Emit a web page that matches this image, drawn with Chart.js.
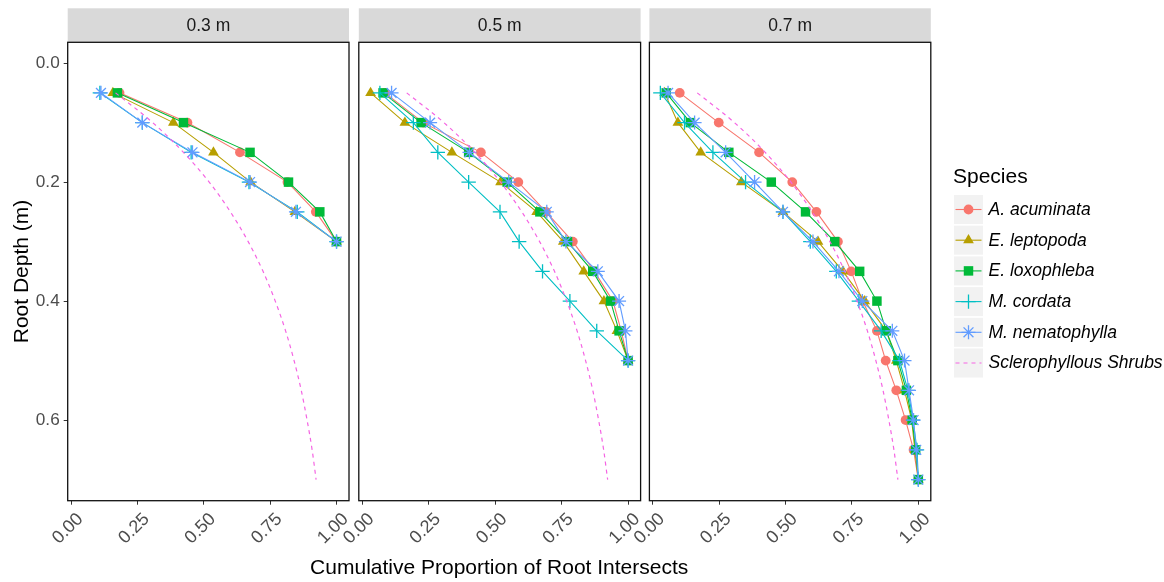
<!DOCTYPE html>
<html><head><meta charset="utf-8">
<script src="https://cdn.jsdelivr.net/npm/chart.js@4.4.1/dist/chart.umd.min.js"></script>
<style>
html,body{margin:0;padding:0;background:#fff;}
#wrap{position:relative;width:1164px;height:582px;overflow:hidden;background:#fff;}
#wrap canvas{position:absolute;left:0;top:0;}
</style></head><body>
<div id="wrap">
<canvas id="c1" width="1164" height="582"></canvas>
<canvas id="c2" width="1164" height="582"></canvas>
<canvas id="c3" width="1164" height="582"></canvas>
</div>
<script>
// ---------- data ----------
const panelLabels = ['0.3 m', '0.5 m', '0.7 m'];
const speciesNames = ['A. acuminata', 'E. leptopoda', 'E. loxophleba', 'M. cordata', 'M. nematophylla', 'Sclerophyllous Shrubs'];
const xTickValues = [0, 0.25, 0.5, 0.75, 1];
const xTickLabels = ['0.00', '0.25', '0.50', '0.75', '1.00'];
const yTickValues = [0, 0.2, 0.4, 0.6];
const yTickLabels = ['0.0', '0.2', '0.4', '0.6'];
const xAxisTitle = 'Cumulative Proportion of Root Intersects';
const yAxisTitle = 'Root Depth (m)';
const legendTitle = 'Species';

const depth03 = [0.05, 0.10, 0.15, 0.20, 0.25, 0.30];
const depth05 = [0.05, 0.10, 0.15, 0.20, 0.25, 0.30, 0.35, 0.40, 0.45, 0.50];
const depth07 = [0.05, 0.10, 0.15, 0.20, 0.25, 0.30, 0.35, 0.40, 0.45, 0.50, 0.55, 0.60, 0.65, 0.70];

const acuminata03    = [0.182, 0.438, 0.636, 0.815, 0.922, 1.0];
const leptopoda03    = [0.157, 0.385, 0.536, 0.676, 0.843, 1.0];
const loxophleba03   = [0.174, 0.423, 0.674, 0.819, 0.937, 1.0];
const cordata03      = [0.108, 0.268, 0.452, 0.670, 0.852, 1.0];
const nematophylla03 = [0.112, 0.268, 0.457, 0.674, 0.847, 1.0];

const acuminata05    = [0.085, 0.229, 0.446, 0.587, 0.691, 0.792, 0.873, 0.943, 0.974, 1.0];
const leptopoda05    = [0.031, 0.160, 0.337, 0.520, 0.656, 0.756, 0.833, 0.909, 0.958, 1.0];
const loxophleba05   = [0.078, 0.221, 0.400, 0.545, 0.668, 0.772, 0.867, 0.934, 0.966, 1.0];
const cordata05      = [0.066, 0.192, 0.284, 0.400, 0.518, 0.590, 0.678, 0.781, 0.882, 1.0];
const nematophylla05 = [0.110, 0.255, 0.403, 0.551, 0.694, 0.766, 0.886, 0.966, 0.990, 1.0];

const acuminata07    = [0.101, 0.248, 0.400, 0.525, 0.616, 0.697, 0.747, 0.790, 0.844, 0.877, 0.917, 0.952, 0.982, 1.0];
const leptopoda07    = [0.044, 0.094, 0.180, 0.333, 0.490, 0.622, 0.716, 0.798, 0.879, 0.917, 0.948, 0.975, 0.987, 1.0];
const loxophleba07   = [0.050, 0.141, 0.286, 0.446, 0.575, 0.685, 0.779, 0.844, 0.879, 0.923, 0.955, 0.977, 0.990, 1.0];
const cordata07      = [0.028, 0.119, 0.226, 0.349, 0.490, 0.593, 0.691, 0.776, 0.860, 0.929, 0.961, 0.980, 0.995, 1.0];
const nematophylla07 = [0.057, 0.157, 0.274, 0.383, 0.490, 0.603, 0.701, 0.789, 0.902, 0.948, 0.965, 0.982, 0.992, 1.0];

const shrubDepth = [0.05, 0.10, 0.15, 0.20, 0.25, 0.30, 0.35, 0.40, 0.45, 0.50, 0.55, 0.60, 0.65, 0.70];
const shrubCum   = [0.167, 0.307, 0.423, 0.520, 0.600, 0.667, 0.723, 0.769, 0.808, 0.840, 0.867, 0.889, 0.908, 0.923];

// ---------- styles ----------
const FONT = '"Liberation Sans", Arial, sans-serif';
const TICK_SIZE = 17.2, XTICK_SIZE = 18, TITLE_SIZE = 21, STRIP_SIZE = 17.5, LEG_SIZE = 17.5;
const seriesStyle = [
  { color: '#F8766D', point: 'circle',   radius: 4.9, bw: 0 },
  { color: '#B79F00', point: 'triangle', radius: 6.2, bw: 0 },
  { color: '#00BA38', point: 'rect',     radius: 6.7, bw: 0 },
  { color: '#00BFC4', point: 'cross',    radius: 7.2, bw: 1.3 },
  { color: '#619CFF', point: 'star',     radius: 7,   bw: 1.3 },
  { color: '#F564E3', point: false,      radius: 0,   bw: 0, dash: [4, 4] }
];
const panelBoxes = [
  { left: 67.7, right: 349.0 },
  { left: 358.8, right: 640.6 },
  { left: 649.4, right: 930.8 }
];
const plotTop = 42.3, plotBottom = 500.7, stripTop = 8.3;
const xMin = -0.0133, xMax = 1.047, yMin = -0.035, yMax = 0.7355;

const panelSeries = [
  [depth03, [acuminata03, leptopoda03, loxophleba03, cordata03, nematophylla03]],
  [depth05, [acuminata05, leptopoda05, loxophleba05, cordata05, nematophylla05]],
  [depth07, [acuminata07, leptopoda07, loxophleba07, cordata07, nematophylla07]]
];

function pts(xs, ys) { return xs.map((x, i) => ({ x: x, y: ys[i] })); }

const framePlugin = {
  id: 'frame',
  beforeDraw(chart, args, opts) {
    const a = chart.chartArea, ctx = chart.ctx;
    ctx.save();
    ctx.fillStyle = '#D9D9D9';
    ctx.fillRect(a.left, stripTop, a.right - a.left, a.top - stripTop);
    ctx.fillStyle = '#1A1A1A';
    ctx.font = STRIP_SIZE + 'px ' + FONT;
    ctx.textAlign = 'center';
    ctx.textBaseline = 'middle';
    ctx.fillText(opts.label, (a.left + a.right) / 2, (stripTop + a.top) / 2 + 0.5);
    if (opts.xTitle) {
      ctx.fillStyle = '#000';
      ctx.font = TITLE_SIZE + 'px ' + FONT;
      ctx.fillText(opts.xTitle, 499.2, 568.5);
    }
    ctx.restore();
  },
  afterDraw(chart) {
    const a = chart.chartArea, ctx = chart.ctx;
    ctx.save();
    ctx.strokeStyle = '#111';
    ctx.lineWidth = 1.3;
    ctx.strokeRect(a.left, a.top, a.right - a.left, a.bottom - a.top);
    ctx.restore();
  }
};

const legendPlugin = {
  id: 'ggLegend',
  afterDraw(chart) {
    const ctx = chart.ctx;
    const L = { titleX: 953, titleY: 177.5, keyX: 954, keyW: 29, keyH: 29, rowY0: 209.5, step: 30.7, textX: 988.5 };
    ctx.save();
    ctx.fillStyle = '#000';
    ctx.font = TITLE_SIZE + 'px ' + FONT;
    ctx.textAlign = 'left';
    ctx.textBaseline = 'middle';
    ctx.fillText(legendTitle, L.titleX, L.titleY);
    speciesNames.forEach((name, i) => {
      const st = seriesStyle[i];
      const cy = L.rowY0 + i * L.step;
      ctx.fillStyle = '#F2F2F2';
      ctx.fillRect(L.keyX, cy - L.keyH / 2, L.keyW, L.keyH);
      ctx.strokeStyle = st.color;
      ctx.fillStyle = st.color;
      ctx.lineWidth = 1.1;
      ctx.setLineDash(st.dash || []);
      ctx.beginPath();
      ctx.moveTo(L.keyX + 1.5, cy);
      ctx.lineTo(L.keyX + L.keyW - 1.5, cy);
      ctx.stroke();
      ctx.setLineDash([]);
      if (st.point) {
        ctx.lineWidth = st.bw;
        Chart.helpers.drawPoint(ctx, { pointStyle: st.point, radius: st.radius, rotation: 0, borderWidth: st.bw }, L.keyX + L.keyW / 2, cy);
      }
      ctx.fillStyle = '#000';
      ctx.font = 'italic ' + LEG_SIZE + 'px ' + FONT;
      ctx.fillText(name, L.textX, cy + 0.5);
    });
    ctx.restore();
  }
};

function makePanel(idx) {
  const box = panelBoxes[idx];
  const [depths, seriesVals] = panelSeries[idx];
  const datasets = seriesVals.map((vals, i) => ({
    label: speciesNames[i],
    data: pts(vals, depths),
    showLine: true,
    borderColor: seriesStyle[i].color,
    backgroundColor: seriesStyle[i].color,
    borderWidth: 1.1,
    pointStyle: seriesStyle[i].point,
    pointRadius: seriesStyle[i].radius,
    pointBorderWidth: seriesStyle[i].bw,
    pointBorderColor: seriesStyle[i].color,
    pointBackgroundColor: seriesStyle[i].color,
    order: 10 - i,
    clip: false
  }));
  datasets.push({
    label: speciesNames[5],
    data: pts(shrubCum, shrubDepth),
    showLine: true,
    borderColor: seriesStyle[5].color,
    borderWidth: 1.2,
    borderDash: seriesStyle[5].dash,
    pointRadius: 0,
    cubicInterpolationMode: 'monotone',
    order: 1,
    clip: false
  });
  const first = idx === 0;
  const plugins = [framePlugin];
  if (idx === 2) plugins.push(legendPlugin);
  return new Chart(document.getElementById('c' + (idx + 1)), {
    type: 'scatter',
    data: { datasets },
    plugins,
    options: {
      responsive: false,
      animation: false,
      events: [],
      devicePixelRatio: 1,
      layout: { padding: { left: first ? 0 : box.left, right: 1164 - box.right, top: plotTop, bottom: 0 } },
      plugins: {
        legend: { display: false },
        tooltip: { enabled: false },
        frame: { label: panelLabels[idx], xTitle: idx === 1 ? xAxisTitle : null }
      },
      scales: {
        x: {
          type: 'linear',
          position: 'bottom',
          min: xMin, max: xMax,
          afterBuildTicks: s => { s.ticks = xTickValues.map(v => ({ value: v })); },
          afterFit: s => { s.height = 582 - plotBottom; },
          border: { display: false },
          grid: { display: true, drawOnChartArea: false, drawTicks: true, tickLength: 4, color: '#333333', lineWidth: 1 },
          ticks: {
            autoSkip: false, minRotation: 45, maxRotation: 45, padding: 4, labelOffset: 9,
            color: '#4D4D4D', font: { family: FONT, size: XTICK_SIZE },
            callback: (v) => { const k = xTickValues.indexOf(v); return k >= 0 ? xTickLabels[k] : ''; }
          },
          title: { display: false }
        },
        y: {
          type: 'linear',
          display: first,
          reverse: true,
          min: yMin, max: yMax,
          afterBuildTicks: s => { s.ticks = yTickValues.map(v => ({ value: v })); },
          afterFit: s => { s.width = first ? box.left : 0; },
          border: { display: false },
          grid: { display: true, drawOnChartArea: false, drawTicks: true, tickLength: 4, color: '#333333', lineWidth: 1 },
          ticks: {
            padding: 4, color: '#4D4D4D', font: { family: FONT, size: TICK_SIZE },
            callback: (v) => { const k = yTickValues.indexOf(v); return k >= 0 ? yTickLabels[k] : ''; }
          },
          title: {
            display: true, text: yAxisTitle, color: '#000',
            font: { family: FONT, size: TITLE_SIZE }, padding: { top: 10, bottom: 0 }
          }
        }
      }
    }
  });
}
[0, 1, 2].forEach(makePanel);
</script>
</body></html>
